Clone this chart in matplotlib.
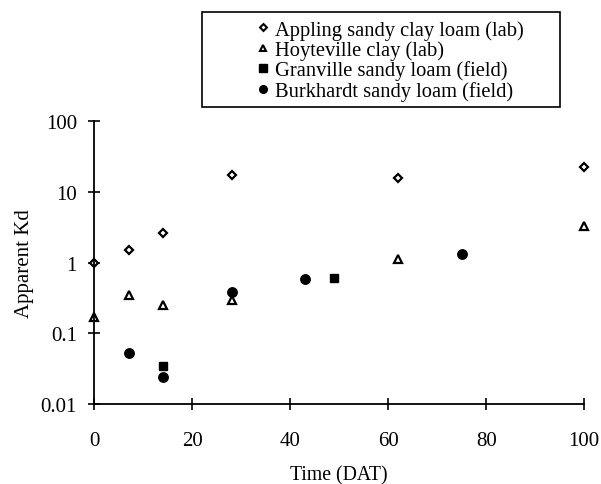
import matplotlib
matplotlib.use('Agg')
import matplotlib.pyplot as plt
from matplotlib.lines import Line2D
from matplotlib.patches import Rectangle

plt.rcParams['font.family'] = ['Liberation Serif', 'DejaVu Serif']

# Apparent Kd over time
appling_x = [0, 7, 14, 28, 62, 100]
appling_y = [1.0, 1.53, 2.63, 17.6, 15.8, 22.5]

hoyteville_x = [0, 7, 14, 28, 62, 100]
hoyteville_y = [0.17, 0.35, 0.25, 0.30, 1.14, 3.3]

granville_x = [14, 49]
granville_y = [0.035, 0.61]

burkhardt_x = [7, 14, 28, 43, 75]
burkhardt_y = [0.053, 0.024, 0.38, 0.59, 1.31]

labels = ['Appling sandy clay loam (lab)', 'Hoyteville clay (lab)',
          'Granville sandy loam (field)', 'Burkhardt sandy loam (field)']

x_ticks = [0, 20, 40, 60, 80, 100]
y_ticks = [0.01, 0.1, 1, 10, 100]
y_ticklabels = ['0.01', '0.1', '1', '10', '100']

fig = plt.figure(figsize=(6.01, 4.85), dpi=100)
ax = fig.add_axes([0.157, 0.165, 0.815, 0.583])

ax.plot(appling_x, appling_y, linestyle='none', marker='D', markersize=4.2,
        markerfacecolor='white', markeredgecolor='black', markeredgewidth=1.6, clip_on=False)
ax.plot(hoyteville_x, hoyteville_y, linestyle='none', marker='^', markersize=5.5,
        markerfacecolor='white', markeredgecolor='black', markeredgewidth=1.6, clip_on=False)
ax.plot(granville_x, granville_y, linestyle='none', marker='s', markersize=6,
        color='black', clip_on=False)
ax.plot(burkhardt_x, burkhardt_y, linestyle='none', marker='o', markersize=6.8,
        color='black', clip_on=False)

ax.set_yscale('log')
ax.set_xlim(0, 100)
ax.set_ylim(0.01, 100)
ax.set_xticks(x_ticks)
ax.set_yticks(y_ticks)
ax.set_yticklabels(y_ticklabels)
ax.minorticks_off()
ax.tick_params(direction='inout', length=9, width=1.2, labelsize=15)
ax.tick_params(axis='x', pad=15)
ax.tick_params(axis='y', pad=8)

for side in ['top', 'right']:
    ax.spines[side].set_visible(False)
for side in ['left', 'bottom']:
    ax.spines[side].set_linewidth(1.3)

ax.set_xlabel('Time (DAT)', fontsize=14.2, labelpad=11)
ax.set_ylabel('Apparent Kd', fontsize=15, labelpad=5)

handles = [
    Line2D([], [], linestyle='none', marker='D', markersize=3.5, markerfacecolor='white',
           markeredgecolor='black', markeredgewidth=1.5),
    Line2D([], [], linestyle='none', marker='^', markersize=4.5, markerfacecolor='white',
           markeredgecolor='black', markeredgewidth=1.5),
    Line2D([], [], linestyle='none', marker='s', markersize=5.5, color='black'),
    Line2D([], [], linestyle='none', marker='o', markersize=5.5, color='black'),
]
fig.legend(handles, labels, loc='upper left', bbox_to_anchor=(0.4276, 0.957),
           fontsize=14.8, frameon=False, handlelength=0.6, handletextpad=0.28,
           labelspacing=0.03, borderpad=0, borderaxespad=0)

# legend box is much wider than its entries, so draw it separately
fig.add_artist(Rectangle((202 / 601, 1 - 108 / 485), 358 / 601, 95.3 / 485,
                         transform=fig.transFigure, fill=False,
                         edgecolor='black', linewidth=1.2))

fig.savefig('out.png', dpi=100)
